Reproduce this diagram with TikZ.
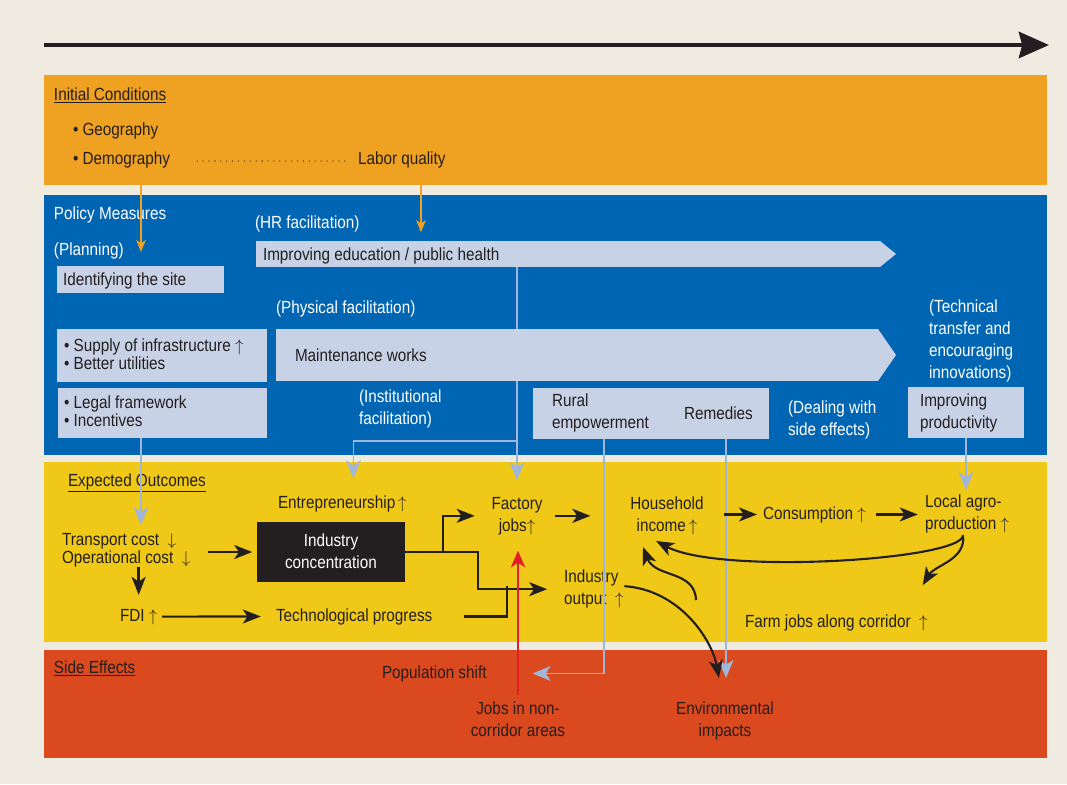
\documentclass[tikz,border=0pt]{standalone}
\usepackage{fontspec}
\setmainfont[FakeStretch=0.87]{Liberation Sans}
\usepackage{tikz}
\usetikzlibrary{fit}
\usetikzlibrary{calc}
\usetikzlibrary{positioning}
\usetikzlibrary{arrows.meta}

\definecolor{bgbeige}{RGB}{240,235,225}
\definecolor{bandorange}{RGB}{239,162,33}
\definecolor{bandblue}{RGB}{0,102,179}
\definecolor{bandyellow}{RGB}{240,201,24}
\definecolor{bandred}{RGB}{218,74,30}
\definecolor{lav}{RGB}{200,210,230}
\definecolor{ink}{RGB}{35,31,32}
\definecolor{lblue}{RGB}{160,182,218}
\definecolor{redline}{RGB}{226,30,38}

\newcommand{\upar}{$\uparrow$}
\newcommand{\dnar}{$\downarrow$}

\begin{document}
\begin{tikzpicture}[
  x=0.025cm, y=-0.025cm,
  every node/.style={font=\fontsize{12.5}{15.6}\selectfont, text=ink, inner sep=0pt, outer sep=0pt},
  band/.style={fill=#1, inner sep=0pt},
  lbox/.style={fill=lav, inner sep=0pt},
  wtxt/.style={text=white, align=left},
  dtxt/.style={text=ink, align=left},
  ctxt/.style={text=ink, align=center},
  blist/.style={dtxt, font=\fontsize{12.5}{12.8}\selectfont},
  bline/.style={ink, line width=1.5pt},
  barr/.style={bline, -{Stealth[length=0.45cm,width=0.35cm,inset=0.12cm]}},
  lline/.style={lblue, line width=1pt},
  larr/.style={lline, -{Stealth[length=0.45cm,width=0.37cm,inset=0.12cm]}},
  oarr/.style={bandorange, line width=0.8pt, -{Stealth[length=0.3cm,width=0.24cm,inset=0.08cm]}},
  rarr/.style={redline, line width=1.3pt, -{Stealth[length=0.42cm,width=0.36cm,inset=0.12cm]}},
]

% background and time arrow
\fill[bgbeige] (0,0) rectangle (1067,784);
\coordinate (tstart) at (44,45);
\coordinate (tend) at (1049,45);
\draw[ink, line width=3.5pt, -{Stealth[length=0.75cm,width=0.65cm,inset=0.08cm]}] (tstart) -- (tend);

% bands
\node (init) [band=bandorange, fit={(44,75) (1047,185)}] {};
\node (policy) [band=bandblue, fit={(44,195) (1047,455)}] {};
\node (outcome) [band=bandyellow, fit={(44,462) (1047,642)}] {};
\node (side) [band=bandred, fit={(44,650) (1047,758)}] {};

% initial conditions
\node (hinit) [anchor=base west] at (54,100) {\underline{Initial Conditions}};
\node (geo) [anchor=base west] at (73,135) {• Geography};
\node (demo) [anchor=base west] at (73,164) {• Demography};
\node (labor) [anchor=base west] at (358,164) {Labor quality};

% policy measures
\node (hpolicy) [anchor=base west, wtxt] at (54,219) {Policy Measures};
\node (plan) [anchor=base west, wtxt] at (54,255) {(Planning)};
\node (sitebox) [lbox, fit={(57,266) (224,293)}] {};
\node (site) [anchor=base west] at (63,285) {Identifying the site};
\node (hr) [anchor=base west, wtxt] at (255,228) {(HR facilitation)};
\node (edu) [lbox, fit={(256,241) (880,267)}] {};
\fill[lav] (edu.north east) -- (896,254) -- (edu.south east) -- cycle;
\node (edutext) [anchor=base west] at (263,260) {Improving education / public health};
\node (phys) [anchor=base west, wtxt] at (276,313) {(Physical facilitation)};
\node (maint) [lbox, fit={(276,329) (878,381)}] {};
\fill[lav] (maint.north east) -- (896,355) -- (maint.south east) -- cycle;
\node (mainttext) [anchor=base west] at (295,361) {Maintenance works};
\node (infrabox) [lbox, fit={(57,329) (267,382)}] {};
\node (infra) [anchor=north west, blist] at (64,339) {• Supply of infrastructure \upar\\• Better utilities};
\node (legal) [lbox, fit={(58,388) (267,438)}] {};
\node (legaltext) [anchor=north west, blist] at (64,396) {• Legal framework\\• Incentives};
\node (inst) [anchor=north west, wtxt] at (359,390) {(Institutional\\facilitation)};
\node (rural) [lbox, fit={(533,388) (769,439)}] {};
\node (ruraltext) [anchor=north west, dtxt] at (552,394) {Rural\\empowerment};
\node (remed) [anchor=base west] at (684,419) {Remedies};
\node (deal) [anchor=north west, wtxt] at (788,401) {(Dealing with\\side effects)};
\node (tech) [anchor=north west, wtxt] at (929,300) {(Technical\\transfer and\\encouraging\\innovations)};
\node (prod) [lbox, fit={(908,387) (1024,438)}] {};
\node (prodtext) [anchor=north west, dtxt] at (920,394) {Improving\\productivity};

% expected outcomes
\node (hout) [anchor=base west] at (68,486) {\underline{Expected Outcomes}};
\node (entre) [anchor=base west] at (278,508) {Entrepreneurship\,\upar};
\node (trans) [anchor=north west, blist] at (62,533) {Transport cost \ \dnar\\Operational cost \ \dnar};
\node (indconc) [fill=ink, fit={(257,522) (405,582)}] {};
\node (indtext) [anchor=north, align=center, text=white] at (331,534) {Industry\\concentration};
\node (fdi) [anchor=base west] at (120,621) {FDI \upar};
\node (techp) [anchor=base west] at (276,621) {Technological progress};
\node (fjobs) [anchor=north, ctxt] at (517,497) {Factory\\jobs\upar};
\node (hhinc) [anchor=north, ctxt] at (667,497) {Household\\income\,\upar};
\node (cons) [anchor=base west] at (763,519) {Consumption \upar};
\node (agro) [anchor=north west, dtxt] at (925,495) {Local agro-\\production \upar};
\node (indout) [anchor=north west, dtxt] at (564,570) {Industry\\output \ \upar};
\node (farm) [anchor=base west] at (745,627) {Farm jobs along corridor \ \upar};

% side effects
\node (hside) [anchor=base west] at (54,673) {\underline{Side Effects}};
\node (popshift) [anchor=base west] at (382,678) {Population shift};
\node (nonjobs) [anchor=north, ctxt] at (518,702) {Jobs in non-\\corridor areas};
\node (env) [anchor=north, ctxt] at (725,702) {Environmental\\impacts};

% orange links
\draw[ink, line cap=round, dash pattern=on 0pt off 4.2pt, line width=0.9pt]
  ($(demo.base east)+(27,-3)$) -- ($(labor.base west)+(-8,-3)$);
\draw[oarr, shorten >=0.35cm] (init.south -| 141,0) -- (sitebox.north -| 141,0);
\draw[oarr, shorten >=0.22cm] (init.south -| 421,0) -- (edu.north -| 421,0);

% light blue links
\draw[larr, shorten >=0.2cm] (legal.south -| 141,0) -- (trans.north -| 141,0);
\draw[lline] (edu.south -| 517,0) -- (maint.north -| 517,0);
\draw[larr, shorten >=0.42cm] (maint.south -| 517,0) -- (fjobs.north);
\coordinate (split) at (517,441);
\draw[larr, shorten >=0.42cm] (split) -| ($(entre.north)+(11,0)$);
\draw[larr, shorten >=1.15cm] (rural.south -| 604,0) |- (popshift.east);
\draw[larr, shorten >=0.6cm] (rural.south -| 726,0) -- (env.north -| 726,0);
\draw[larr, shorten >=0.12cm] (prod.south -| 966,0) -- (agro.north -| 966,0);

% black links
\draw[barr, shorten <=0.45cm, shorten >=0.12cm] (trans.east |- indconc.west) -- (indconc.west);
\draw[barr, line width=2pt, shorten >=0.35cm] (fdi.north |- trans.south) -- (fdi.north);
\draw[barr, shorten <=0.12cm, shorten >=0.38cm] (fdi.east) -- (techp.west);
\draw[bline] (indconc.east) -- ++(38,0) coordinate (cj);
\draw[barr, shorten >=0.42cm] (cj) |- (fjobs.west);
\draw[barr, shorten >=0.42cm] (cj) -- ++(35,0) |- (indout.west);
\coordinate (merge) at (507,586);
\draw[bline] ([xshift=0.8cm]techp.east) -| (merge);
\draw[barr, shorten <=0.3cm, shorten >=1.0cm] (fjobs.east) -- (fjobs.east -| hhinc.west);
\draw[barr, shorten <=0.5cm, shorten >=0.15cm] (hhinc.east |- cons.west) -- (cons.west);
\draw[barr, shorten <=0.25cm, shorten >=0.18cm] (cons.east) -- (cons.east -| agro.west);
\draw[barr] ($(agro.south)+(-4,2)$) .. controls (962,560) and (720,575) .. ($(hhinc.south)+(-11,6)$);
\draw[barr] ($(agro.south)+(-4,2)$) .. controls (966,560) and (935,565) .. ($(farm.north east)+(-5,-29)$);
\coordinate (loopstart) at (696,600);
\draw[barr] (loopstart) .. controls (695,570) and (655,578) .. ($(hhinc.south)+(-24,12)$);
\draw[barr] ($(indout.east)+(1,-3)$) .. controls (680,590) and (712,640) .. ($(env.north)+(-6,-24)$);

% red link
\draw[rarr, shorten <=0.18cm, shorten >=0.4cm] (nonjobs.north) -- (fjobs.south -| nonjobs.north);

\end{tikzpicture}
\end{document}
